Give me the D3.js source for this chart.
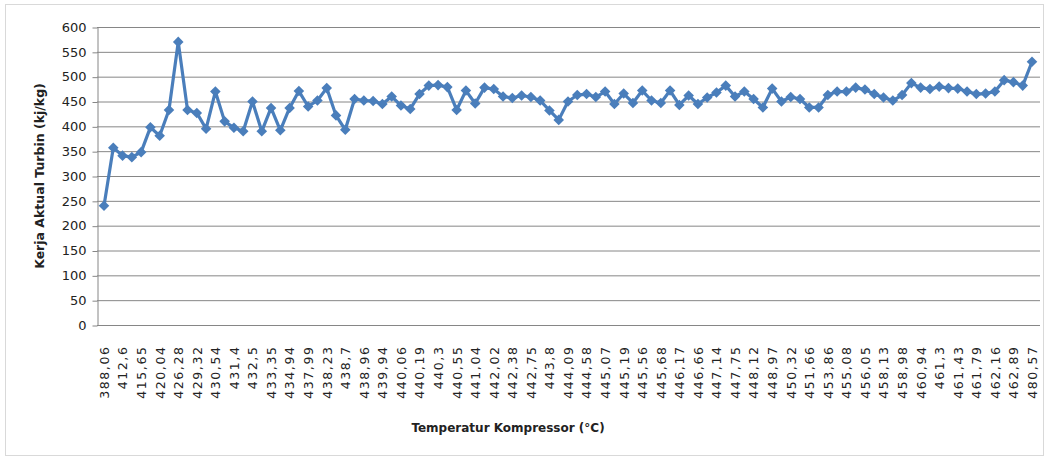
<!DOCTYPE html>
<html>
<head>
<meta charset="utf-8">
<script src="https://cdn.jsdelivr.net/npm/d3@7"></script>
<style>
  body { margin: 0; background: #fff; }
  svg { display: block; }
</style>
</head>
<body>
<div id="chart"></div>
<script>
// Shown category labels (every second category is labelled on the axis).
const tickLabels = [
    '388,06', '412,6', '415,65', '420,04', '426,28', '429,32', '430,54', '431,4', '432,5', '433,35',
    '434,94', '437,99', '438,23', '438,7', '438,96', '439,94', '440,06', '440,19', '440,3', '440,55',
    '441,04', '442,02', '442,38', '442,75', '443,8', '444,09', '444,58', '445,07', '445,19', '445,56',
    '445,68', '446,17', '446,66', '447,14', '447,75', '448,12', '448,97', '450,32', '451,66', '453,86',
    '455,08', '456,05', '458,13', '458,98', '460,94', '461,3', '461,43', '461,79', '462,16', '462,89',
    '480,57'
];

// Kerja aktual turbin (kj/kg), one value per category.
const values = [
    240, 357, 341, 338, 348, 398, 381, 433, 570, 433,
    427, 395, 470, 410, 397, 390, 450, 390, 437, 392,
    437, 471, 440, 452, 477, 422, 393, 455, 452, 451,
    445, 460, 442, 435, 465, 482, 483, 479, 433, 472,
    446, 478, 475, 460, 457, 462, 459, 452, 432, 413,
    450, 463, 465, 459, 470, 445, 466, 447, 472, 452,
    447, 472, 443, 462, 445, 458, 468, 482, 460, 470,
    455, 438, 476, 450, 459, 455, 438, 438, 463, 470,
    470, 478, 474, 465, 458, 452, 463, 487, 478, 475,
    480, 477, 476, 470, 465, 466, 470, 493, 489, 482,
    530
];

const yTicks = d3.range(0, 601, 50);

const width = 1048, height = 461;
const plot = { left: 97, right: 1040, top: 27, bottom: 325 };
const lineColor = '#4a7ebb';

const svg = d3.select('#chart')
    .append('svg')
        .attr('width', width)
        .attr('height', height);

// Chart border.
svg.append('rect')
    .attr('x', 5.5).attr('y', 4.5)
    .attr('width', 1038).attr('height', 451)
    .attr('fill', '#fff')
    .attr('stroke', '#d9d9d9');

// Scales.
const x = d3.scalePoint()
    .domain(d3.range(values.length))
    .range([104, 1032]);
const y = d3.scaleLinear()
    .domain([0, 600])
    .range([plot.bottom, plot.top]);

// Gridlines.
svg.append('g')
    .selectAll('line')
    .data(yTicks.filter(d => d > 0))
    .enter()
    .append('line')
        .attr('x1', plot.left).attr('x2', plot.right)
        .attr('y1', d => y(d) + 0.5).attr('y2', d => y(d) + 0.5)
        .attr('stroke', '#868686')
        .attr('stroke-width', 1);

// Y axis.
const yAxis = svg.append('g')
    .attr('transform', `translate(${plot.left + 0.5},0)`)
    .call(d3.axisLeft(y).tickValues(yTicks).tickSize(5).tickPadding(6).tickSizeOuter(0));
yAxis.select('.domain').attr('stroke', '#868686');
yAxis.selectAll('.tick line').attr('stroke', '#868686').attr('transform', 'translate(0,0.5)');
yAxis.selectAll('text')
    .style('font-family', 'DejaVu Sans, sans-serif')
    .style('font-size', '13px')
    .attr('fill', '#222');

// X axis.
const xAxis = svg.append('g')
    .attr('transform', `translate(0,${plot.bottom + 0.5})`)
    .call(d3.axisBottom(x)
        .tickValues(d3.range(0, values.length, 2))
        .tickFormat(i => tickLabels[i / 2])
        .tickSize(0)
        .tickSizeOuter(0));
xAxis.select('.domain')
    .attr('d', `M${plot.left},0H${plot.right}`)
    .attr('stroke', '#868686');
xAxis.selectAll('text')
    .attr('transform', 'rotate(-90)')
    .attr('x', -20)
    .attr('y', 0)
    .attr('dy', '0.35em')
    .style('text-anchor', 'end')
    .style('font-family', 'DejaVu Sans, sans-serif')
    .style('font-size', '12.5px')
    .style('letter-spacing', '1.6px')
    .attr('fill', '#222');

// Axis titles.
svg.append('text')
    .attr('transform', `translate(44,176) rotate(-90)`)
    .attr('text-anchor', 'middle')
    .style('font-family', 'DejaVu Sans, sans-serif')
    .style('font-size', '12.5px')
    .style('font-weight', 'bold')
    .attr('fill', '#222')
    .text('Kerja Aktual Turbin  (kj/kg)');

svg.append('text')
    .attr('x', 508)
    .attr('y', 432)
    .attr('text-anchor', 'middle')
    .style('font-family', 'DejaVu Sans, sans-serif')
    .style('font-size', '12px')
    .style('font-weight', 'bold')
    .attr('fill', '#222')
    .text('Temperatur Kompressor (°C)');

// Line.
const line = d3.line()
    .x((d, i) => x(i))
    .y(d => y(d));

svg.append('path')
    .datum(values)
    .attr('d', line)
    .attr('fill', 'none')
    .attr('stroke', lineColor)
    .attr('stroke-width', 3.2)
    .attr('stroke-linejoin', 'round');

// Diamond markers.
svg.append('g')
    .selectAll('path')
    .data(values)
    .enter()
    .append('path')
        .attr('d', d3.symbol().type(d3.symbolSquare).size(56))
        .attr('transform', (d, i) => `translate(${x(i)},${y(d)}) rotate(45)`)
        .attr('fill', lineColor);
</script>
</body>
</html>
